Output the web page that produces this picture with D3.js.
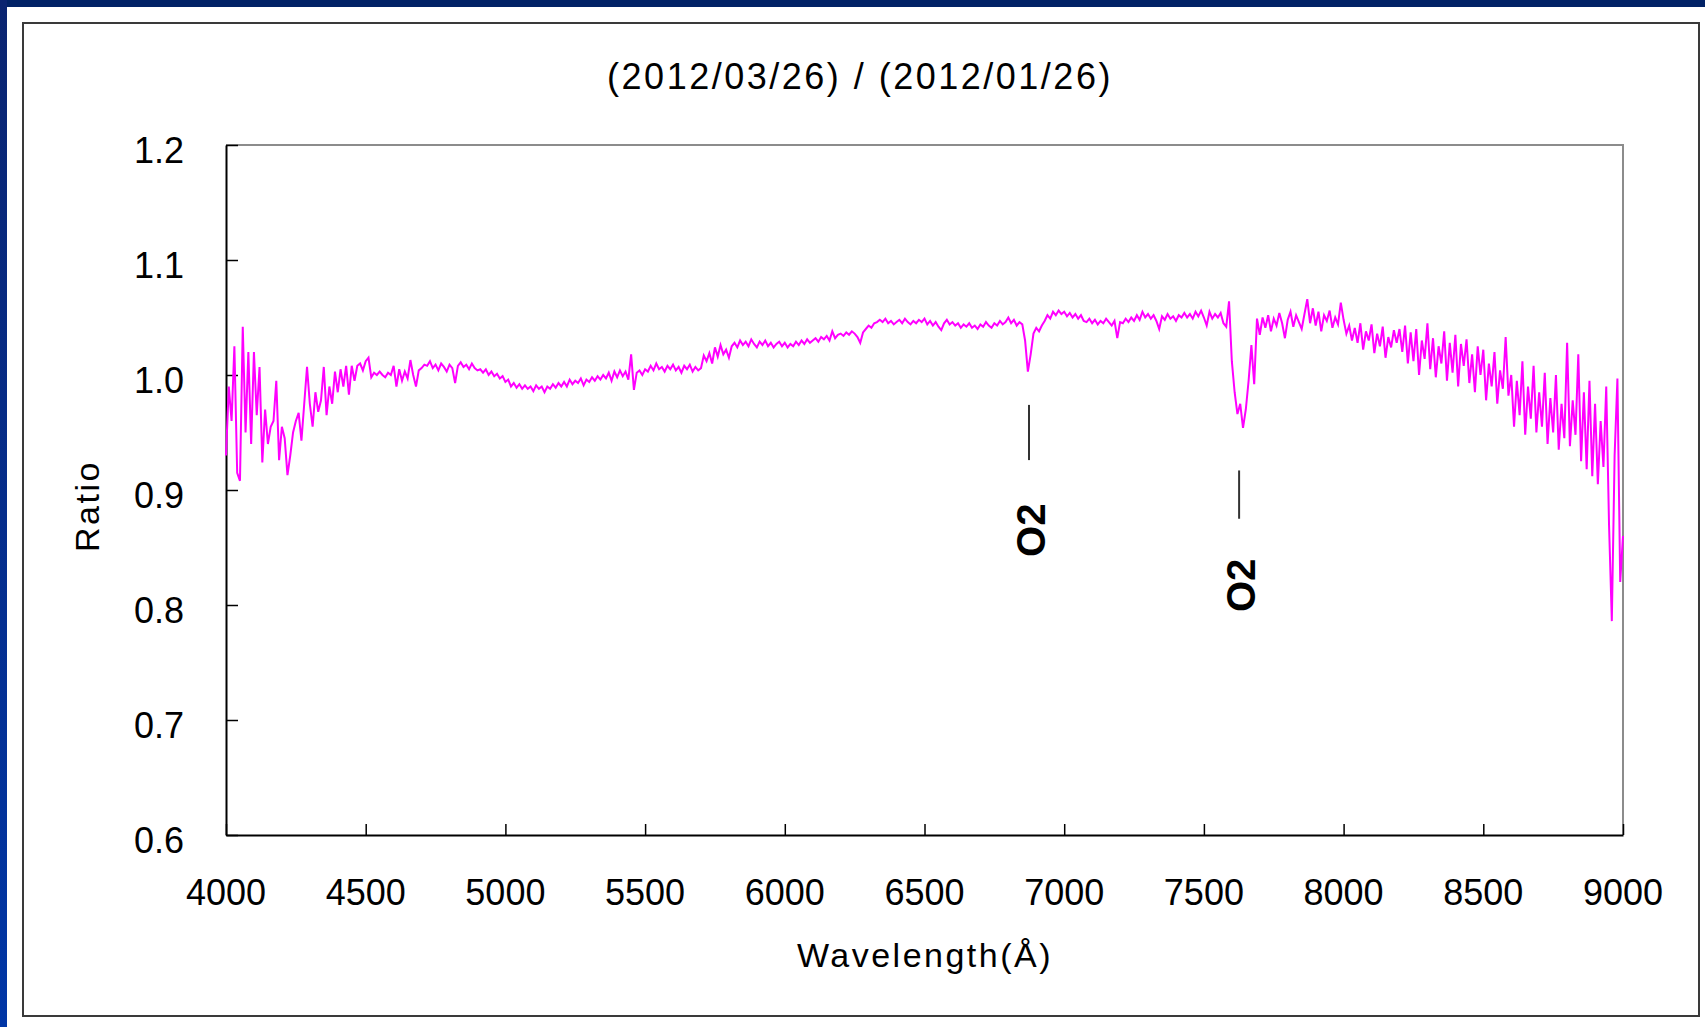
<!DOCTYPE html>
<html>
<head>
<meta charset="utf-8">
<script src="https://cdn.jsdelivr.net/npm/d3@7"></script>
<style>
    body { margin: 0; background: #ffffff; }
    svg text { font-family: "Liberation Sans", Arial, sans-serif; fill: #000; }
</style>
</head>
<body>
<div id="chart"></div>
<script>
"use strict";


/*
 * ============================================================================
 * Data
 * ============================================================================
 */

const TITLE = "(2012/03/26) / (2012/01/26)";
const X_LABEL = "Wavelength(Å)";
const Y_LABEL = "Ratio";

const X_TICKS = [4000, 4500, 5000, 5500, 6000, 6500, 7000, 7500, 8000, 8500, 9000];
const Y_TICKS = [0.6, 0.7, 0.8, 0.9, 1.0, 1.1, 1.2];

// spectrum sampled every 10 A from 4000 A
const WL_START = 4000;
const WL_STEP = 10;
const ratio = [
    0.930, 0.990, 0.960, 1.025, 0.915, 0.908, 1.042, 0.950, 1.020, 0.940,
    1.020, 0.965, 1.007, 0.924, 0.970, 0.940, 0.955, 0.960, 0.995, 0.926,
    0.955, 0.945, 0.913, 0.930, 0.950, 0.960, 0.967, 0.943, 0.975, 1.007,
    0.975, 0.955, 0.985, 0.968, 0.978, 1.007, 0.965, 0.990, 0.975, 1.003,
    0.985, 1.005, 0.990, 1.008, 0.983, 1.008, 0.995, 1.008, 1.010, 1.004,
    1.012, 1.015, 0.998, 1.002, 1.000, 1.003, 1.000, 0.998, 1.002, 1.000,
    1.008, 0.990, 1.005, 0.995, 1.003, 0.997, 1.013, 1.000, 0.990, 1.004,
    1.006, 1.009, 1.008, 1.012, 1.006, 1.009, 1.004, 1.010, 1.007, 1.003,
    1.009, 1.006, 0.993, 1.008, 1.011, 1.007, 1.009, 1.005, 1.010, 1.006,
    1.004, 1.005, 1.002, 1.005, 1.000, 1.003, 0.999, 1.001, 0.997, 0.999,
    0.994, 0.996, 0.990, 0.993, 0.989, 0.992, 0.988, 0.991, 0.988, 0.990,
    0.986, 0.991, 0.988, 0.990, 0.985, 0.990, 0.988, 0.992, 0.989, 0.993,
    0.990, 0.994, 0.990, 0.996, 0.992, 0.995, 0.993, 0.997, 0.991, 0.996,
    0.994, 0.998, 0.995, 0.999, 0.996, 1.000, 0.997, 1.002, 0.995, 1.003,
    0.998, 1.004, 0.999, 1.003, 0.996, 1.018, 0.987, 1.002, 1.004, 1.000,
    1.005, 1.003, 1.008, 1.004, 1.010, 1.005, 1.007, 1.003, 1.008, 1.005,
    1.009, 1.004, 1.007, 1.002, 1.008, 1.005, 1.009, 1.003, 1.007, 1.004,
    1.006, 1.017, 1.012, 1.019, 1.010, 1.024, 1.016, 1.026, 1.018, 1.022,
    1.015, 1.025, 1.028, 1.024, 1.030, 1.026, 1.029, 1.025, 1.031, 1.027,
    1.024, 1.029, 1.026, 1.030, 1.025, 1.028, 1.024, 1.027, 1.029, 1.025,
    1.028, 1.024, 1.027, 1.025, 1.029, 1.026, 1.030, 1.027, 1.031, 1.028,
    1.030, 1.032, 1.029, 1.033, 1.031, 1.034, 1.030, 1.038, 1.032, 1.035,
    1.036, 1.034, 1.037, 1.035, 1.038, 1.036, 1.033, 1.028, 1.037, 1.040,
    1.043, 1.041, 1.045, 1.046, 1.048, 1.046, 1.049, 1.045, 1.047, 1.044,
    1.046, 1.048, 1.045, 1.049, 1.046, 1.044, 1.047, 1.045, 1.048, 1.046,
    1.049, 1.044, 1.047, 1.043, 1.046, 1.042, 1.039, 1.045, 1.048, 1.044,
    1.046, 1.043, 1.045, 1.041, 1.044, 1.042, 1.045, 1.041, 1.043, 1.040,
    1.044, 1.042, 1.046, 1.043, 1.041, 1.045, 1.043, 1.047, 1.044, 1.046,
    1.050, 1.045, 1.048, 1.043, 1.046, 1.044, 1.030, 1.003, 1.018, 1.036,
    1.041, 1.038, 1.043, 1.047, 1.052, 1.049, 1.055, 1.052, 1.056, 1.053,
    1.055, 1.051, 1.054, 1.050, 1.053, 1.049, 1.052, 1.047, 1.046, 1.049,
    1.045, 1.048, 1.044, 1.047, 1.045, 1.049, 1.046, 1.043, 1.047, 1.032,
    1.046, 1.045, 1.049, 1.046, 1.050, 1.047, 1.052, 1.048, 1.055, 1.050,
    1.053, 1.049, 1.052, 1.047, 1.040, 1.051, 1.048, 1.053, 1.049, 1.051,
    1.047, 1.052, 1.050, 1.054, 1.050, 1.053, 1.049, 1.055, 1.051, 1.056,
    1.050, 1.043, 1.055, 1.049, 1.053, 1.050, 1.054, 1.045, 1.042, 1.064,
    1.012, 0.985, 0.966, 0.975, 0.954, 0.970, 0.995, 1.026, 0.992, 1.049,
    1.035, 1.050, 1.041, 1.052, 1.038, 1.049, 1.043, 1.054, 1.045, 1.032,
    1.048, 1.055, 1.042, 1.052, 1.046, 1.040, 1.053, 1.066, 1.045, 1.058,
    1.043, 1.055, 1.038, 1.052, 1.047, 1.056, 1.041, 1.050, 1.044, 1.063,
    1.048, 1.036, 1.043, 1.030, 1.041, 1.028, 1.045, 1.022, 1.038, 1.030,
    1.044, 1.019, 1.036, 1.025, 1.042, 1.015, 1.033, 1.024, 1.039, 1.028,
    1.040, 1.020, 1.043, 1.010, 1.037, 1.012, 1.040, 1.000, 1.030, 1.014,
    1.045, 1.005, 1.032, 0.998, 1.025, 1.010, 1.038, 0.995, 1.028, 1.002,
    1.035, 0.990, 1.027, 1.008, 1.031, 0.993, 1.018, 0.985, 1.025, 1.000,
    1.022, 0.978, 1.010, 0.990, 1.020, 0.975, 1.004, 0.988, 1.033, 0.982,
    1.000, 0.955, 0.995, 0.965, 1.012, 0.948, 0.990, 0.962, 1.008, 0.950,
    0.985, 0.955, 1.002, 0.940, 0.980, 0.950, 1.000, 0.935, 0.975, 0.945,
    1.028, 0.938, 0.978, 0.948, 1.018, 0.925, 0.985, 0.918, 0.995, 0.912,
    0.975, 0.905, 0.960, 0.920, 0.990, 0.870, 0.786, 0.930, 0.997, 0.820,
    0.860
];

// O2 telluric band markers (wavelength, line top/bottom, label centre)
const O2_WL = [6874, 7626];
const O2_TOP = [0.974, 0.917];
const O2_BOTTOM = [0.926, 0.875];
const O2_LABEL = [0.865, 0.817];


/*
 * ============================================================================
 * Chart
 * ============================================================================
 */

function Chart(target) {
    const W = 1705;
    const H = 1027;
    const PLOT = { left: 226, right: 1623, top: 145, bottom: 835 };

    this.svg = d3.select(target)
      .append("svg")
        .attr("width", W)
        .attr("height", H);

    // slide background: navy band top, blue band left
    const grad = this.svg.append("defs")
      .append("linearGradient")
        .attr("id", "sidebar")
        .attr("x1", 0).attr("y1", 0).attr("x2", 0).attr("y2", 1);
    grad.append("stop").attr("offset", "0%").attr("stop-color", "#0a2470");
    grad.append("stop").attr("offset", "100%").attr("stop-color", "#0036a6");

    this.svg.append("rect")
        .attr("width", W).attr("height", H)
        .attr("fill", "#fff");
    this.svg.append("rect")
        .attr("width", W).attr("height", 7)
        .attr("fill", "#012266");
    this.svg.append("rect")
        .attr("width", 7).attr("height", H)
        .attr("fill", "url(#sidebar)");

    // chart area frame
    this.svg.append("rect")
        .attr("x", 23).attr("y", 23)
        .attr("width", 1676).attr("height", 993)
        .attr("fill", "#fff")
        .attr("stroke", "#3a3a3a")
        .attr("stroke-width", 2);

    this.x = d3.scaleLinear()
        .domain([4000, 9000])
        .range([PLOT.left, PLOT.right]);

    this.y = d3.scaleLinear()
        .domain([0.6, 1.2])
        .range([PLOT.bottom, PLOT.top]);

    // plot area border (top/right in grey)
    this.svg.append("path")
        .attr("d", `M${PLOT.left},${PLOT.top}H${PLOT.right}V${PLOT.bottom}`)
        .attr("fill", "none")
        .attr("stroke", "#8c8c8c")
        .attr("stroke-width", 2);

    // axes, ticks pointing inward
    const xaxis = this.svg
      .append("g")
        .attr("transform", `translate(0,${PLOT.bottom})`)
        .call(d3.axisTop(this.x).tickValues(X_TICKS).tickSize(11).tickSizeOuter(0).tickFormat(""));

    const yaxis = this.svg
      .append("g")
        .attr("transform", `translate(${PLOT.left},0)`)
        .call(d3.axisRight(this.y).tickValues(Y_TICKS).tickSize(12).tickSizeOuter(0).tickFormat(""));

    [xaxis, yaxis].forEach(g => {
        g.select(".domain").attr("stroke", "#000").attr("stroke-width", 2);
        g.selectAll(".tick line").attr("stroke", "#000").attr("stroke-width", 1.5);
    });

    this.svg.append("g")
        .selectAll("text")
        .data(X_TICKS)
        .join("text")
        .attr("x", d => this.x(d))
        .attr("y", PLOT.bottom + 70)
        .attr("text-anchor", "middle")
        .attr("font-size", 36)
        .text(d => d);

    this.svg.append("g")
        .selectAll("text")
        .data(Y_TICKS)
        .join("text")
        .attr("x", 184)
        .attr("y", d => this.y(d) + 18)
        .attr("text-anchor", "end")
        .attr("font-size", 36)
        .text(d => d.toFixed(1));

    // titles
    this.svg.append("text")
        .attr("x", 860)
        .attr("y", 89)
        .attr("text-anchor", "middle")
        .attr("font-size", 36)
        .attr("letter-spacing", 2.5)
        .text(TITLE);

    this.svg.append("text")
        .attr("x", 925)
        .attr("y", 967)
        .attr("text-anchor", "middle")
        .attr("font-size", 34)
        .attr("letter-spacing", 2.5)
        .text(X_LABEL);

    this.svg.append("text")
        .attr("transform", "translate(99,506) rotate(-90)")
        .attr("text-anchor", "middle")
        .attr("font-size", 34)
        .attr("letter-spacing", 2.5)
        .text(Y_LABEL);

    this.line = d3.line()
        .x((d, i) => this.x(WL_START + i * WL_STEP))
        .y(d => this.y(d));
}

Chart.prototype.draw = function(data) {
    this.svg
      .append("path")
        .datum(data)
        .attr("fill", "none")
        .attr("stroke", "#ff00ff")
        .attr("stroke-width", 2)
        .attr("stroke-linejoin", "miter")
        .attr("d", this.line);
}

Chart.prototype.annotate = function() {
    const marks = O2_WL.map((wl, i) => ({
        wl: wl, top: O2_TOP[i], bottom: O2_BOTTOM[i], label: O2_LABEL[i]
    }));

    const g = this.svg.append("g");

    g.selectAll("line")
        .data(marks)
        .join("line")
        .attr("x1", d => this.x(d.wl))
        .attr("x2", d => this.x(d.wl))
        .attr("y1", d => this.y(d.top))
        .attr("y2", d => this.y(d.bottom))
        .attr("stroke", "#333")
        .attr("stroke-width", 2);

    g.selectAll("text")
        .data(marks)
        .join("text")
        .attr("transform", d => `translate(${this.x(d.wl) + 16},${this.y(d.label)}) rotate(-90)`)
        .attr("text-anchor", "middle")
        .attr("font-size", 40)
        .attr("font-weight", "bold")
        .text("O2");
}


/*
 * ============================================================================
 * Orchestration
 * ============================================================================
 */

const chart = new Chart(document.getElementById("chart"));
chart.draw(ratio);
chart.annotate();
</script>
</body>
</html>
